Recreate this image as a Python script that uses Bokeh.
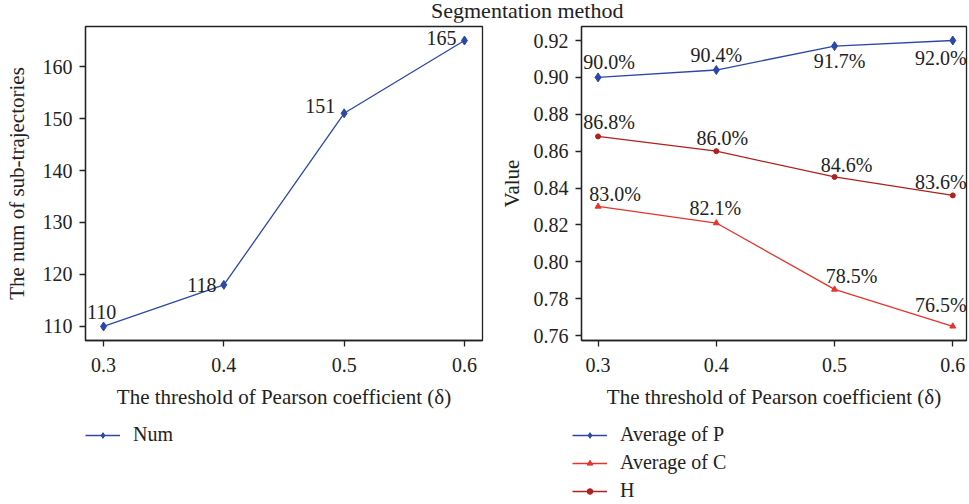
from bokeh.plotting import figure
from bokeh.models import (ColumnDataSource, LabelSet, Legend, LegendItem, FixedTicker,
                          NumeralTickFormatter, Div, Range1d, Spacer)
from bokeh.layouts import row, column
from bokeh.embed import file_html
from bokeh.resources import INLINE

# ---- data ----
thresholds = [0.3, 0.4, 0.5, 0.6]
num_values = [110, 118, 151, 165]
num_labels = ["110", "118", "151", "165"]
avg_p = [0.900, 0.904, 0.917, 0.920]
avg_p_labels = ["90.0%", "90.4%", "91.7%", "92.0%"]
avg_c = [0.830, 0.821, 0.785, 0.765]
avg_c_labels = ["83.0%", "82.1%", "78.5%", "76.5%"]
h_values = [0.868, 0.860, 0.846, 0.836]
h_labels = ["86.8%", "86.0%", "84.6%", "83.6%"]
left_yticks = [110, 120, 130, 140, 150, 160]
right_yticks = [0.76, 0.78, 0.80, 0.82, 0.84, 0.86, 0.88, 0.90, 0.92]

FONT = "'Liberation Serif'"
BLUE = "#2c47a8"
RED = "#e8332b"
DARKRED = "#b0201e"
TXT = "#222222"


def style(p, yticks, yfmt):
    p.xaxis.ticker = FixedTicker(ticks=thresholds)
    p.xaxis.formatter = NumeralTickFormatter(format="0.0")
    p.yaxis.ticker = FixedTicker(ticks=yticks)
    p.yaxis.formatter = NumeralTickFormatter(format=yfmt)
    p.xgrid.visible = False
    p.ygrid.visible = False
    p.outline_line_color = TXT
    p.outline_line_width = 1.3
    for ax in (p.xaxis, p.yaxis):
        ax.axis_line_color = TXT
        ax.axis_line_width = 1.3
        ax.major_tick_line_color = TXT
        ax.major_tick_line_width = 1.3
        ax.minor_tick_line_color = None
        ax.major_tick_in = 0
        ax.major_label_text_font = FONT
        ax.major_label_text_font_size = "20px"
        ax.major_label_text_color = TXT
        ax.axis_label_text_font = FONT
        ax.axis_label_text_font_size = "21px"
        ax.axis_label_text_font_style = "normal"
        ax.axis_label_text_color = TXT
    p.xaxis.major_tick_out = 6
    p.yaxis.major_tick_out = 6
    p.xaxis.major_label_standoff = 11
    p.yaxis.major_label_standoff = 7
    p.xaxis.axis_label_standoff = 10


def legend_figure(width, left, entries):
    # legend-only panel; the series are drawn outside its ranges so only the key shows
    lf = figure(width=width, height=83, output_backend="svg", toolbar_location=None,
                x_axis_type=None, y_axis_type=None,
                x_range=Range1d(0, 0.1), y_range=Range1d(0, 1),
                min_border_left=left, min_border_right=0, min_border_top=3,
                min_border_bottom=0)
    lf.outline_line_color = None
    items = []
    for label, ys, color, marker, size in entries:
        r1 = lf.line(x=thresholds, y=ys, line_color=color, line_width=1.3)
        r2 = lf.scatter(x=thresholds, y=ys, marker=marker, size=size, fill_color=color,
                        line_color=color)
        items.append(LegendItem(label=label, renderers=[r1, r2]))
    lf.add_layout(Legend(items=items, location="top_left", orientation="vertical",
                         glyph_width=35, glyph_height=14, label_height=18,
                         label_standoff=13, padding=0, margin=0, spacing=5,
                         border_line_alpha=0, background_fill_alpha=0,
                         label_text_font=FONT, label_text_font_size="20px",
                         label_text_color=TXT))
    return lf


# ---- left figure ----
p1 = figure(width=496, height=398, output_backend="svg", toolbar_location=None,
            x_range=Range1d(0.285, 0.615), y_range=Range1d(107.3, 167.7),
            min_border_left=85, min_border_right=14, min_border_top=4,
            min_border_bottom=80)
p1.xaxis.axis_label = "The threshold of Pearson coefficient (δ)"
p1.yaxis.axis_label = "The num of sub-trajectories"
style(p1, left_yticks, "0")
p1.yaxis.axis_label_standoff = 11

src1 = ColumnDataSource(dict(x=thresholds, y=num_values, t=num_labels,
                             xo=[-2, -22, -24, -23], yo=[14, 0, 7, 3]))
p1.line("x", "y", source=src1, line_color=BLUE, line_width=1.3)
p1.scatter("x", "y", source=src1, marker="diamond", size=9,
           fill_color=BLUE, line_color=BLUE)
p1.add_layout(LabelSet(x="x", y="y", text="t", source=src1, x_offset="xo", y_offset="yo",
                       text_align="center", text_baseline="middle",
                       text_font=FONT, text_font_size="20px", text_color=TXT))

# ---- right figure ----
p2 = figure(width=472, height=398, output_backend="svg", toolbar_location=None,
            x_range=Range1d(0.286, 0.6116), y_range=Range1d(0.7573, 0.9276),
            min_border_left=76, min_border_right=2, min_border_top=4,
            min_border_bottom=80)
p2.xaxis.axis_label = "The threshold of Pearson coefficient (δ)"
p2.yaxis.axis_label = "Value"
style(p2, right_yticks, "0.00")
p2.yaxis.axis_label_standoff = 7

srcP = ColumnDataSource(dict(x=thresholds, y=avg_p, t=avg_p_labels,
                             xo=[11, 0, 5, -12], yo=[15, 15, -15, -17]))
srcC = ColumnDataSource(dict(x=thresholds, y=avg_c, t=avg_c_labels,
                             xo=[17, -1, 17, -12], yo=[12, 15, 13, 21]))
srcH = ColumnDataSource(dict(x=thresholds, y=h_values, t=h_labels,
                             xo=[11, 6, 12, -12], yo=[14, 13, 12, 13]))

p2.line("x", "y", source=srcP, line_color=BLUE, line_width=1.3)
p2.scatter("x", "y", source=srcP, marker="diamond", size=9,
           fill_color=BLUE, line_color=BLUE)
p2.line("x", "y", source=srcC, line_color=RED, line_width=1.3)
p2.scatter("x", "y", source=srcC, marker="triangle", size=6,
           fill_color=RED, line_color=RED)
p2.line("x", "y", source=srcH, line_color=DARKRED, line_width=1.3)
p2.scatter("x", "y", source=srcH, marker="circle", size=5,
           fill_color=DARKRED, line_color=DARKRED)
for s in (srcP, srcC, srcH):
    p2.add_layout(LabelSet(x="x", y="y", text="t", source=s, x_offset="xo", y_offset="yo",
                           text_align="center", text_baseline="middle",
                           text_font=FONT, text_font_size="20px", text_color=TXT))

lf1 = legend_figure(496, 85, [("Num", num_values, BLUE, "diamond", 9)])
lf2 = legend_figure(472, 76, [("Average of P", avg_p, BLUE, "diamond", 9),
                              ("Average of C", avg_c, RED, "triangle", 6),
                              ("H", h_values, DARKRED, "circle", 5)])

title = Div(text="Segmentation method", width=220, height=22, margin=(0, 0, 0, 0),
            styles={"font-family": "'Liberation Serif'", "font-size": "22px",
                    "color": TXT, "text-align": "left", "line-height": "22px",
                    "white-space": "nowrap"})
title_row = row(Spacer(width=431, height=22), title, spacing=0)

layout = column(title_row, row(p1, p2, spacing=0), row(lf1, lf2, spacing=0), spacing=0)

open("out.html", "w").write(file_html(layout, INLINE))
